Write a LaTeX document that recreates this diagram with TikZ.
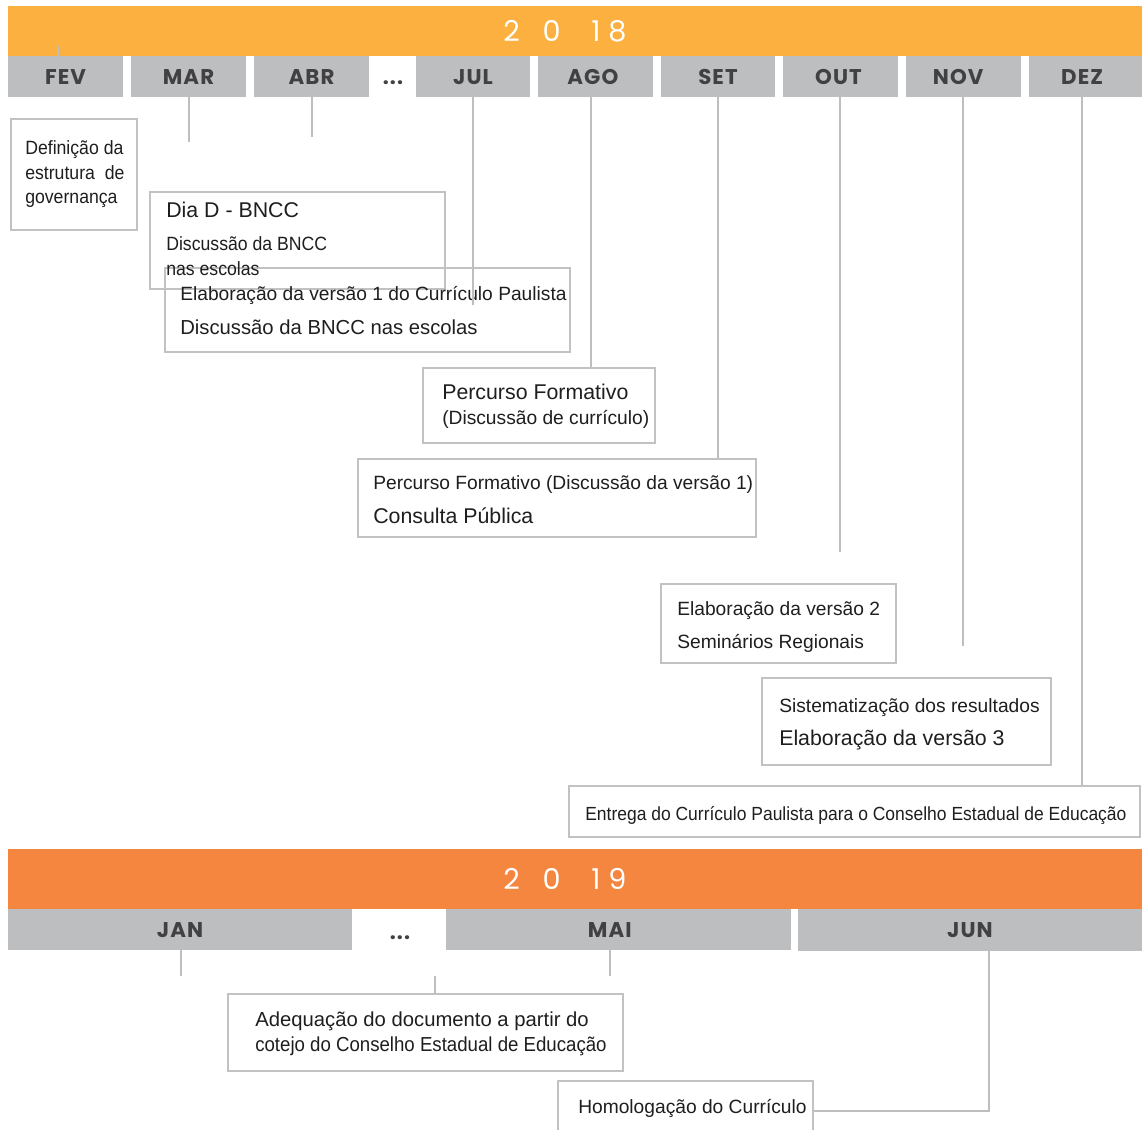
\documentclass[tikz,border=0pt]{standalone}
\usepackage{fontspec}
\setmainfont{Liberation Sans}
\newfontfamily\narrowfont{Liberation Sans}[FakeStretch=0.92]
\newfontfamily\monthfont{Poppins}[LetterSpace=5]
\newfontfamily\yearfont{Poppins}
\usetikzlibrary{fit}

\definecolor{orangeA}{HTML}{FBB040}
\definecolor{orangeB}{HTML}{F5863F}
\definecolor{tabgray}{HTML}{BCBEC0}
\definecolor{monthgray}{HTML}{414042}
\definecolor{boxgray}{HTML}{C2C2C2}
\definecolor{inkblack}{HTML}{1E1E1E}

\newcommand\txtsmall{\fontsize{14.4}{17}\selectfont}
\newcommand\txtmid{\fontsize{15.2}{18}\selectfont}
\newcommand\txtbig{\fontsize{16}{19}\selectfont}
\newcommand\yeartxt{\yearfont\fontsize{21.5}{22}\selectfont}
\newcommand\monthtxt{\monthfont\bfseries\fontsize{16}{16}\selectfont}

\begin{document}
\begin{tikzpicture}[x=0.75pt, y=-0.75pt,
    band/.style={inner sep=0pt},
    year/.style={inner sep=0pt, text=white, font=\yeartxt},
    tab/.style={fill=tabgray, inner sep=0pt},
    month/.style={inner sep=0pt, text=monthgray, font=\monthtxt, text height=11.5pt, text depth=0pt},
    box/.style={draw=boxgray, line width=1.8pt, inner sep=0pt},
    lbl/.style={anchor=base west, inner sep=0pt, text=inkblack, font=\txtsmall},
    conn/.style={draw=tabgray, line width=1.5pt}
]
\useasboundingbox (0,0) rectangle (1142,1130);

\node[band, fill=orangeA, fit={(8,6) (1142,56)}] (band18) {};
\node[year] (year18) at (565,31) {2\hspace{17pt}0\hspace{23pt}1\hspace{6pt}8};

\node[tab, fit={(8,56) (123,97)}, label={[month]center:FEV}] (fev) {};
\node[tab, fit={(131,56) (246,97)}, label={[month]center:MAR}] (mar) {};
\node[tab, fit={(254,56) (369,97)}, label={[month]center:ABR}] (abr) {};
\node[month] (dots18) at (393,77) {...};
\node[tab, fit={(416,56) (530,97)}, label={[month]center:JUL}] (jul) {};
\node[tab, fit={(538,56) (653,97)}, label={[month, xshift=-2pt]center:AGO}] (ago) {};
\node[tab, fit={(661,56) (775,97)}, label={[month]center:SET}] (set) {};
\node[tab, fit={(783,56) (898,97)}, label={[month, xshift=-1.5pt]center:OUT}] (out) {};
\node[tab, fit={(906,56) (1021,97)}, label={[month, xshift=-4pt]center:NOV}] (nov) {};
\node[tab, fit={(1029,56) (1142,97)}, label={[month, xshift=-2.5pt]center:DEZ}] (dez) {};

\node[box, fit={(11,119) (137,230)}] (b1) {};
\node[box, fit={(150,192) (445,289)}] (b2) {};
\node[box, fit={(165,268) (570,352)}] (b3) {};
\node[box, fit={(423,368) (655,443)}] (b4) {};
\node[box, fit={(358,459) (756,537)}] (b5) {};
\node[box, fit={(661,584) (896,663)}] (b6) {};
\node[box, fit={(762,678) (1051,765)}] (b7) {};
\node[box, fit={(569,786) (1140,837)}] (b8) {};

\node[lbl, font=\narrowfont\txtsmall] (t1a) at (25,155) {Definição da};
\node[lbl, font=\narrowfont\txtsmall] (t1b) at (25,180) {estrutura\ \ de};
\node[lbl, font=\narrowfont\txtsmall] (t1c) at (25,204) {governança};
\node[lbl, font=\txtbig] (t2a) at (166,218) {Dia D - BNCC};
\node[lbl, font=\narrowfont\txtsmall] (t2b) at (166,251) {Discussão da BNCC};
\node[lbl, font=\narrowfont\txtsmall] (t2c) at (166,276) {nas escolas};
\node[lbl] (t3a) at (180,301) {Elaboração da versão 1 do Currículo Paulista};
\node[lbl, font=\txtmid] (t3b) at (180,335) {Discussão da BNCC nas escolas};
\node[lbl, font=\txtbig] (t4a) at (442,399) {Percurso Formativo};
\node[lbl] (t4b) at (442,424) {(Discussão de currículo)};
\node[lbl] (t5a) at (373,489) {Percurso Formativo (Discussão da versão 1)};
\node[lbl, font=\txtbig] (t5b) at (373,523) {Consulta Pública};
\node[lbl] (t6a) at (677,615) {Elaboração da versão 2};
\node[lbl] (t6b) at (677,648) {Seminários Regionais};
\node[lbl] (t7a) at (779,712) {Sistematização dos resultados};
\node[lbl, font=\txtbig] (t7b) at (779,745) {Elaboração da versão 3};
\node[lbl, font=\narrowfont\fontsize{14.25}{17}\selectfont] (t8) at (585,820) {Entrega do Currículo Paulista para o Conselho Estadual de Educação};

\coordinate (fevstub) at (58,46);
\coordinate (marend) at (188.5,142);
\coordinate (abrend) at (311.5,137);
\coordinate (julend) at (473,305);
\coordinate (agox) at (591,0);
\coordinate (setx) at (718,0);
\coordinate (outend) at (840,552);
\coordinate (novend) at (963,646);
\coordinate (dezx) at (1082,0);

\draw[conn] (fevstub) -- (fevstub |- fev.north);
\draw[conn] (marend |- mar.south) -- (marend);
\draw[conn] (abrend |- abr.south) -- (abrend);
\draw[conn] (julend |- jul.south) -- (julend);
\draw[conn] (agox |- ago.south) -- (agox |- b4.north);
\draw[conn] (setx |- set.south) -- (setx |- b5.north);
\draw[conn] (outend |- out.south) -- (outend);
\draw[conn] (novend |- nov.south) -- (novend);
\draw[conn] (dezx |- dez.south) -- (dezx |- b8.north);

\node[band, fill=orangeB, fit={(8,849) (1142,909)}] (band19) {};
\node[year] (year19) at (565,879) {2\hspace{17pt}0\hspace{23pt}1\hspace{6pt}9};

\node[tab, fit={(8,909) (352,950)}, label={[month]center:JAN}] (jan) {};
\node[month] (dots19) at (400,932) {...};
\node[tab, fit={(446,909) (791,950)}, label={[month, xshift=-6.5pt]center:MAI}] (mai) {};
\node[tab, fit={(798,909) (1142,951)}, label={[month]center:JUN}] (jun) {};

\node[box, fit={(228,994) (623,1071)}] (b9) {};
\node[box, fit={(558,1081) (813,1140)}] (b10) {};

\node[lbl, font=\txtmid] (t9a) at (255,1026) {Adequação do documento a partir do};
\node[lbl, font=\narrowfont\txtmid] (t9b) at (255,1051) {cotejo do Conselho Estadual de Educação};
\node[lbl] (t10) at (578,1113) {Homologação do Currículo};

\coordinate (janend) at (181,976);
\coordinate (dotsend) at (435,976);
\coordinate (maiend) at (610,976);
\coordinate (junx) at (989,0);

\draw[conn] (janend |- jan.south) -- (janend);
\draw[conn] (dotsend) -- (dotsend |- b9.north);
\draw[conn] (maiend |- mai.south) -- (maiend);
\draw[conn] (junx |- jun.south) |- (b10.east);

\end{tikzpicture}
\end{document}
